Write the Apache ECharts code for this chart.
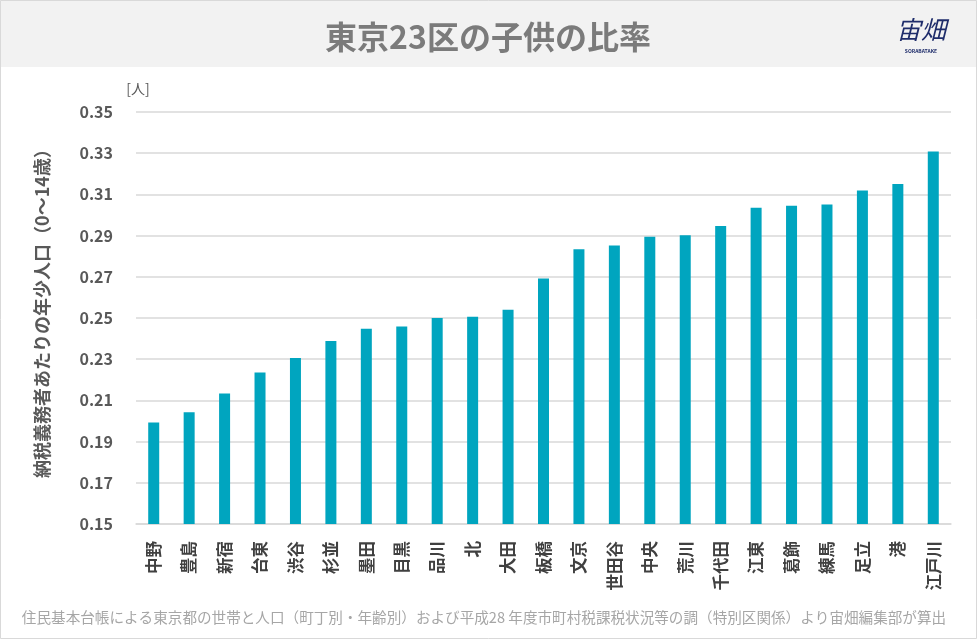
<!DOCTYPE html>
<html>
<head>
<meta charset="utf-8">
<script src="https://cdn.jsdelivr.net/npm/echarts@6/dist/echarts.min.js"></script>
<style>
  html, body { margin: 0; padding: 0; background: #fff; }
  #chart { width: 977px; height: 639px; }
</style>
</head>
<body>
<div id="chart"></div>
<script>
const wards = ['中野', '豊島', '新宿', '台東', '渋谷', '杉並', '墨田', '目黒', '品川', '北', '大田', '板橋',
  '文京', '世田谷', '中央', '荒川', '千代田', '江東', '葛飾', '練馬', '足立', '港', '江戸川']
const ratios = [0.1993, 0.2043, 0.2134, 0.2236, 0.2306, 0.2388, 0.2448, 0.2459, 0.2500, 0.2506, 0.2540, 0.2692,
  0.2834, 0.2852, 0.2895, 0.2902, 0.2946, 0.3035, 0.3045, 0.3051, 0.3119, 0.3151, 0.3308]

const font = '"Noto Sans CJK JP", "Noto Sans", sans-serif'
const chart = echarts.init(document.getElementById('chart'))

chart.setOption({
  backgroundColor: '#fff',
  textStyle: { fontFamily: font },
  grid: { left: 136, right: 26, top: 112, bottom: 115 },
  graphic: [
    { type: 'rect', shape: { x: 0, y: 0, width: 977, height: 67 }, style: { fill: '#f2f2f2' }, z: -1 },
    { type: 'rect', shape: { x: 0.5, y: 0.5, width: 976, height: 638 }, style: { fill: 'none', stroke: '#d9d9d9', lineWidth: 1 } },
    { type: 'text', x: 488, y: 37, style: { text: '東京23区の子供の比率', font: 'bold 32px ' + font, fill: '#7b7b7b', align: 'center', verticalAlign: 'middle' } },
    { type: 'text', x: 921, y: 29, style: { text: '宙畑', font: 'italic 25px ' + font, fill: '#1f2d6b', align: 'center', verticalAlign: 'middle' } },
    { type: 'text', x: 921, y: 51, style: { text: 'SORABATAKE', font: 'bold 5px ' + font, fill: '#1f2d6b', align: 'center', verticalAlign: 'middle' } },
    { type: 'text', x: 138, y: 89, style: { text: '[人]', font: '14px ' + font, fill: '#595959', align: 'center', verticalAlign: 'middle' } },
    // y axis title, placed by hand to sit a bit above the plot centre like the original
    { type: 'text', x: 42, y: 309, rotation: Math.PI / 2, style: { text: '納税義務者あたりの年少人口（0～14歳）', font: 'bold 18px ' + font, fill: '#595959', align: 'center', verticalAlign: 'middle' } },
    { type: 'text', x: 484, y: 617, style: { text: '住民基本台帳による東京都の世帯と人口（町丁別・年齢別）および平成28 年度市町村税課税状況等の調（特別区関係）より宙畑編集部が算出', font: '14.6px ' + font, fill: '#a6a6a6', align: 'center', verticalAlign: 'middle' } }
  ],
  xAxis: {
    type: 'category',
    data: wards,
    axisLine: { lineStyle: { color: '#d9d9d9', width: 1.5 } },
    axisTick: { show: false },
    axisLabel: {
      interval: 0,
      rotate: 90,
      margin: 17,
      fontSize: 16.5,
      fontWeight: 'bold',
      color: '#404040'
    }
  },
  yAxis: {
    type: 'value',
    min: 0.15,
    max: 0.35,
    interval: 0.02,
    axisLine: { show: false },
    axisTick: { show: false },
    axisLabel: { margin: 23, fontSize: 16, fontWeight: 'bold', color: '#595959', formatter: v => v.toFixed(2) },
    splitLine: { lineStyle: { color: '#d9d9d9', width: 1.5 } }
  },
  series: [{
    type: 'bar',
    data: ratios,
    barWidth: 11,
    itemStyle: { color: '#00a5bf' }
  }]
})
</script>
</body>
</html>
